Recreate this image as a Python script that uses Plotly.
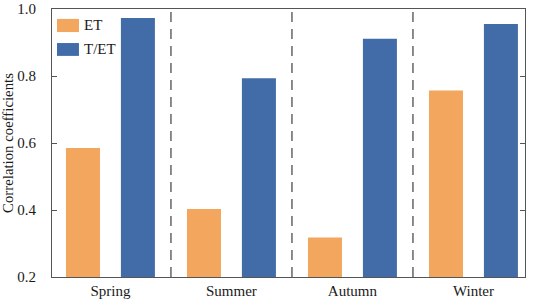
import plotly.graph_objects as go

seasons = ["Spring", "Summer", "Autumn", "Winter"]
et_values = [0.585, 0.403, 0.318, 0.757]
tet_values = [0.973, 0.793, 0.911, 0.955]
y_ticks = [0.2, 0.4, 0.6, 0.8, 1.0]
y_tick_labels = ["0.2", "0.4", "0.6", "0.8", "1.0"]
series_names = ["ET", "T/ET"]
series_colors = ["#F2A65E", "#416CA7"]

xpos = list(range(len(seasons)))
bar_w = 0.281
half_sep = 0.227

fig = go.Figure()
fig.add_trace(go.Bar(x=xpos, y=et_values, name=series_names[0], marker_color=series_colors[0],
                     marker_line_width=0, width=bar_w, offset=-half_sep - bar_w / 2))
fig.add_trace(go.Bar(x=xpos, y=tet_values, name=series_names[1], marker_color=series_colors[1],
                     marker_line_width=0, width=bar_w, offset=half_sep - bar_w / 2))

for b in [0.5, 1.5, 2.5]:
    fig.add_shape(type="line", x0=b, x1=b, y0=0, y1=1, xref="x", yref="paper",
                  line=dict(color="#666666", width=1.5, dash="10px,7px"))

legend_rows = [(0.963, 0.914), (0.873, 0.825)]
for (y1, y0), name, col in zip(legend_rows, series_names, series_colors):
    fig.add_shape(type="rect", xref="paper", yref="paper", x0=0.0106, x1=0.057, y0=y0, y1=y1,
                  fillcolor=col, line_width=0)
    fig.add_annotation(xref="paper", yref="paper", x=0.064, y=(y0 + y1) / 2, text=name,
                       showarrow=False, xanchor="left", yanchor="middle", font=dict(size=15))

font = "Liberation Serif, Times New Roman, Times, serif"
fig.update_layout(
    width=533, height=302,
    margin=dict(l=52, r=8, t=9, b=25, autoexpand=False),
    plot_bgcolor="white", paper_bgcolor="white",
    barmode="overlay",
    font=dict(family=font, size=15, color="#1a1a1a"),
    showlegend=False,
    xaxis=dict(range=[-0.483, 3.426], tickvals=xpos, ticktext=seasons, showgrid=False,
               zeroline=False, showline=True, linecolor="#555555", linewidth=1.2,
               mirror=True, ticks="", tickfont=dict(size=15, family=font), automargin=False),
    yaxis=dict(range=[0.2, 1.0], tickvals=y_ticks, ticktext=y_tick_labels, showgrid=False,
               zeroline=False, showline=True, linecolor="#555555", linewidth=1.2,
               mirror="ticks", ticks="inside", ticklen=5, tickcolor="#555555",
               ticklabelstandoff=12, tickfont=dict(size=15, family=font), automargin=False,
               title=dict(text="Correlation coefficients", font=dict(size=14.8, family=font), standoff=11)),
)
fig.write_html("out.html", config={"displayModeBar": False},
               post_script="document.body.style.margin='0';")
